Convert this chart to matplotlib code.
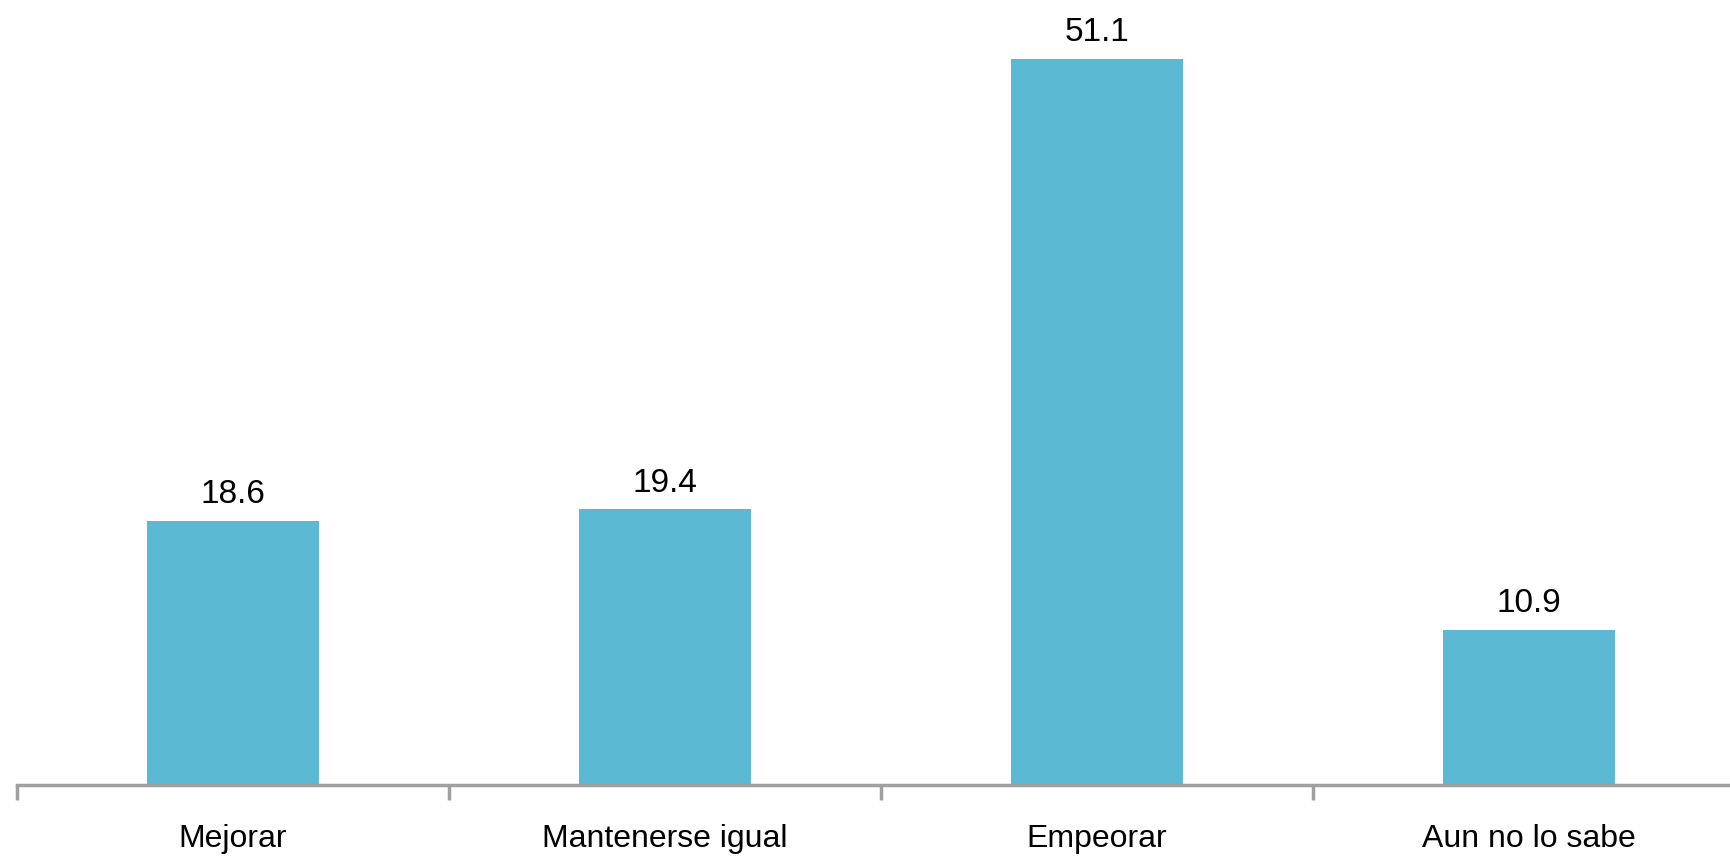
import matplotlib
matplotlib.use("Agg")
import matplotlib.pyplot as plt
import numpy as np

categories = ["Mejorar", "Mantenerse igual", "Empeorar", "Aun no lo sabe"]
values = [18.6, 19.4, 51.1, 10.9]

plt.rcParams['font.family'] = ['Liberation Sans', 'DejaVu Sans']

W, H = 1731, 858
fig = plt.figure(figsize=(W / 100, H / 100), dpi=100)
ymax = 55
px_per_unit = 726 / 51.1
ax_left = 17 / W
ax_w = 1728 / W
ax_bottom = (H - 785) / H
ax_h = ymax * px_per_unit / H
ax = fig.add_axes([ax_left, ax_bottom, ax_w, ax_h])

x = np.arange(len(categories))
bars = ax.bar(x, values, width=0.4, color="#5bb9d3", zorder=2)
for xi, v in zip(x, values):
    ax.text(xi, v + 0.75, f"{v:.1f}", ha="center", va="bottom", fontsize=24, color="black")

ax.set_xlim(-0.5, len(categories) - 0.5)
ax.set_ylim(0, ymax)
for s in ["top", "right", "left"]:
    ax.spines[s].set_visible(False)
ax.spines["bottom"].set_color("#a0a0a0")
ax.spines["bottom"].set_linewidth(2.5)
ax.set_yticks([])
ax.set_xticks(x)
ax.set_xticklabels(categories, fontsize=23)
ax.tick_params(axis="x", which="major", length=0, pad=28)
ax.set_xticks(np.arange(len(categories)) - 0.5, minor=True)
ax.tick_params(axis="x", which="minor", length=11, width=2.5, color="#a0a0a0")

fig.savefig("out.png", dpi=100)
